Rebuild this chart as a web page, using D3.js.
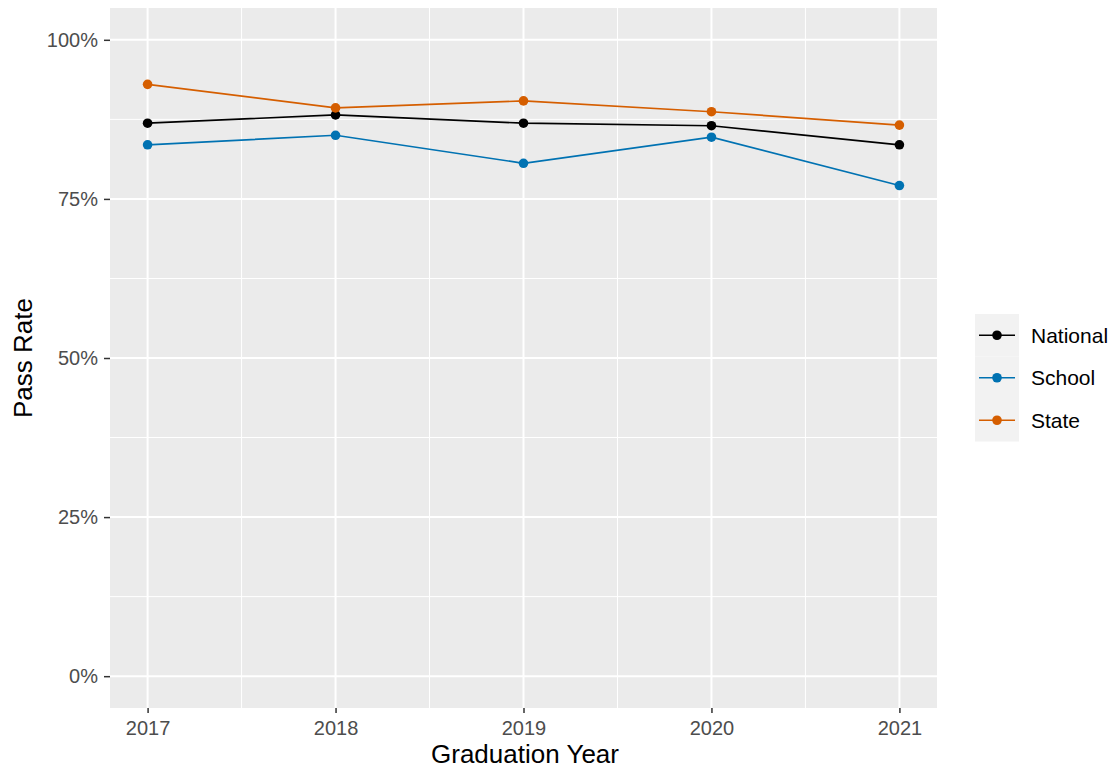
<!DOCTYPE html>
<html>
<head>
<meta charset="utf-8">
<script src="https://cdn.jsdelivr.net/npm/d3@7"></script>
<style>
  body { margin: 0; background: #fff; }
  svg { display: block; font-family: "Liberation Sans", Arial, sans-serif; }
</style>
</head>
<body>
<svg id="chart" width="1117" height="771"></svg>
<script>
// Pass rates by graduation year
const years = [2017, 2018, 2019, 2020, 2021];
const national = [0.869, 0.882, 0.869, 0.865, 0.835];
const school   = [0.835, 0.850, 0.806, 0.847, 0.771];
const state    = [0.930, 0.893, 0.904, 0.887, 0.866];
const seriesNames = ["National", "School", "State"];
const seriesColors = ["#000000", "#0072B2", "#D55E00"];
const yTicks = [0, 0.25, 0.5, 0.75, 1];

const seriesData = [national, school, state].map((vals, i) => ({
  name: seriesNames[i],
  color: seriesColors[i],
  points: years.map((y, j) => ({ year: y, value: vals[j] }))
}));

const svg = d3.select("#chart");
const panel = { left: 110, top: 8, right: 937, bottom: 708 };

const x = d3.scaleLinear().domain([2016.8, 2021.2]).range([panel.left, panel.right]);
const y = d3.scaleLinear().domain([-0.05, 1.05]).range([panel.bottom, panel.top]);

// Panel background
svg.append("rect")
  .attr("x", panel.left).attr("y", panel.top)
  .attr("width", panel.right - panel.left).attr("height", panel.bottom - panel.top)
  .attr("fill", "#EBEBEB");

const grid = svg.append("g");
// Minor grid lines
const xMinor = years.slice(0, -1).map(v => v + 0.5);
const yMinor = yTicks.slice(0, -1).map(v => v + 0.125);
grid.selectAll(".xminor").data(xMinor).enter().append("line")
  .attr("x1", d => x(d)).attr("x2", d => x(d))
  .attr("y1", panel.top).attr("y2", panel.bottom)
  .attr("stroke", "#fff").attr("stroke-width", 1);
grid.selectAll(".yminor").data(yMinor).enter().append("line")
  .attr("y1", d => y(d)).attr("y2", d => y(d))
  .attr("x1", panel.left).attr("x2", panel.right)
  .attr("stroke", "#fff").attr("stroke-width", 1);
// Major grid lines
grid.selectAll(".xmajor").data(years).enter().append("line")
  .attr("x1", d => x(d)).attr("x2", d => x(d))
  .attr("y1", panel.top).attr("y2", panel.bottom)
  .attr("stroke", "#fff").attr("stroke-width", 2);
grid.selectAll(".ymajor").data(yTicks).enter().append("line")
  .attr("y1", d => y(d)).attr("y2", d => y(d))
  .attr("x1", panel.left).attr("x2", panel.right)
  .attr("stroke", "#fff").attr("stroke-width", 2);

// Axes
const xAxis = svg.append("g")
  .attr("transform", `translate(0,${panel.bottom})`)
  .call(d3.axisBottom(x).tickValues(years).tickFormat(d3.format("d")).tickSizeOuter(0).tickSize(5).tickPadding(8));
const yAxis = svg.append("g")
  .attr("transform", `translate(${panel.left},0)`)
  .call(d3.axisLeft(y).tickValues(yTicks).tickFormat(d3.format(".0%")).tickSizeOuter(0).tickSize(6).tickPadding(6));
[xAxis, yAxis].forEach(a => {
  a.attr("font-size", null).attr("font-family", null);
  a.select(".domain").remove();
  a.selectAll(".tick line").attr("stroke", "#333").attr("stroke-width", 1.5);
  a.selectAll(".tick text").attr("fill", "#4D4D4D")
    .style("font-size", "20px")
    .style("font-family", "'Liberation Sans', Arial, sans-serif");
});

// Lines and points
const line = d3.line().x(d => x(d.year)).y(d => y(d.value));
const g = svg.append("g");
seriesData.forEach(s => {
  g.append("path").datum(s.points)
    .attr("d", line).attr("fill", "none")
    .attr("stroke", s.color).attr("stroke-width", 1.7);
});
seriesData.forEach(s => {
  g.selectAll(null).data(s.points).enter().append("circle")
    .attr("cx", d => x(d.year)).attr("cy", d => y(d.value))
    .attr("r", 4.8).attr("fill", s.color);
});

// Axis titles
svg.append("text")
  .attr("x", 525).attr("y", 763)
  .attr("text-anchor", "middle").style("font-size", "26px").attr("fill", "#000")
  .text("Graduation Year");
svg.append("text")
  .attr("transform", `translate(32,${(panel.top + panel.bottom) / 2}) rotate(-90)`)
  .attr("text-anchor", "middle").style("font-size", "26px").attr("fill", "#000")
  .text("Pass Rate");

// Legend
const legend = svg.append("g").attr("transform", "translate(975,314)");
const keyH = 42.5;
seriesData.forEach((s, i) => {
  const k = legend.append("g").attr("transform", `translate(0,${i * keyH})`);
  k.append("rect").attr("width", 44).attr("height", keyH).attr("fill", "#F2F2F2");
  k.append("line").attr("x1", 4).attr("x2", 40)
    .attr("y1", keyH / 2).attr("y2", keyH / 2)
    .attr("stroke", s.color).attr("stroke-width", 1.7);
  k.append("circle").attr("cx", 22).attr("cy", keyH / 2).attr("r", 4.8).attr("fill", s.color);
  k.append("text").attr("x", 56).attr("y", keyH / 2).attr("dy", "0.35em")
    .style("font-size", "21px").attr("fill", "#000").text(s.name);
});
</script>
</body>
</html>
